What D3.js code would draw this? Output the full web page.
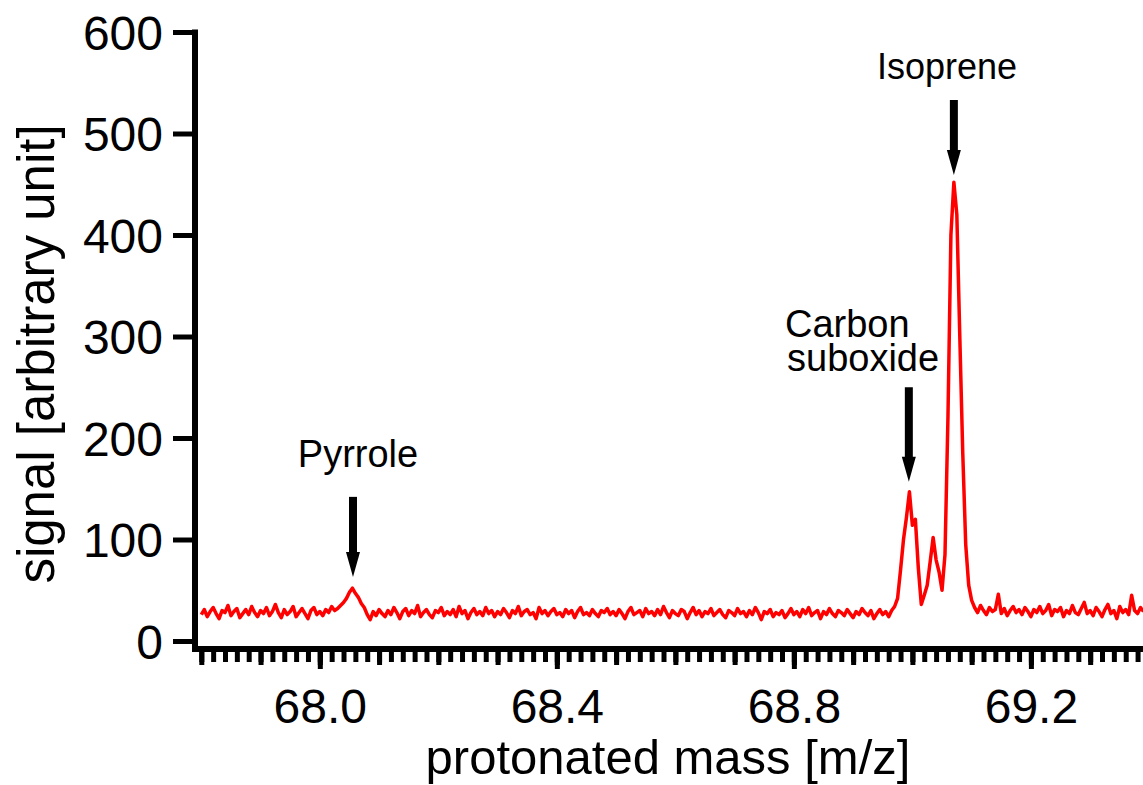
<!DOCTYPE html>
<html>
<head>
<meta charset="utf-8">
<script src="https://cdn.jsdelivr.net/npm/d3@7"></script>
<style>
  body { margin: 0; background: #fff; }
  text { font-family: "Liberation Sans", Arial, sans-serif; fill: #000; }
</style>
</head>
<body>
<div id="chart"></div>
<script>
// spectrum sampled on a regular mass grid
const massStart = 67.80
const massStep = 0.005
const signal = [
  26, 31, 24, 29, 33, 27, 22, 30, 28, 35, 25, 29, 32, 23, 27, 31, 26, 34, 28, 24,
  30, 27, 33, 25, 29, 36, 28, 23, 31, 26, 29, 34, 24, 28, 32, 27, 22, 30, 33, 26,
  29, 25, 31, 28, 34, 30, 32, 35, 38, 42, 48, 52, 47, 43, 37, 33, 26, 21, 29, 25,
  31, 27, 24, 30, 26, 33, 28, 22, 29, 32, 25, 30, 27, 35, 24, 28, 31, 26, 23, 30,
  28, 33, 25, 29, 26, 31, 24, 34, 27, 30, 22, 28, 32, 26, 29, 25, 33, 27, 30, 24,
  29, 26, 32, 28, 23, 30, 27, 34, 25, 29, 31, 26, 28, 22, 33, 27, 30, 25, 29, 32,
  26, 28, 24, 31, 27, 30, 23, 29, 33, 26, 28, 25, 31, 27, 24, 30, 28, 32, 26, 29,
  25, 31, 27, 22, 29, 33, 26, 28, 30, 24, 32, 27, 29, 25, 31, 26, 34, 28, 23, 30,
  27, 25, 31, 29, 22, 28, 33, 26, 30, 24, 29, 27, 32, 25, 28, 31, 26, 23, 30, 28,
  25, 32, 27, 29, 24, 30, 26, 33, 28, 21, 29, 27, 31, 24, 28, 26, 30, 23, 27, 32,
  26, 29, 24, 31, 27, 33, 25, 28, 30, 22, 29, 26, 32, 27, 24, 30, 28, 25, 31, 27,
  23, 29, 26, 32, 28, 25, 30, 22, 27, 31, 26, 29, 24, 30,
  34, 42, 70, 100, 122, 147, 114, 120, 72, 36, 45, 55, 78, 102, 80, 68, 50, 85,
  220, 400, 452, 420, 300, 185, 95, 55, 40, 33,
  28, 35, 30, 26, 33, 29, 31, 46, 27, 32, 25, 30, 34, 28, 31, 26, 33, 29, 24, 31,
  28, 34, 27, 30, 36, 25, 31, 29, 33, 24, 30, 27, 35, 28, 26, 32, 38, 27, 30, 25,
  33, 29, 24, 31, 36, 27, 30, 22, 34, 28, 31, 26, 45, 30, 27, 33, 29
]

const yTicks = [0, 100, 200, 300, 400, 500, 600]
const xLabelTicks = [68.0, 68.4, 68.8, 69.2]

// peak annotations
const peakNames = [["Pyrrole"], ["Carbon", "suboxide"], ["Isoprene"]]
const peakMass = [68.056, 68.994, 69.070]
const arrowTop = [142, 250, 533]
const arrowTip = [63, 157, 459]

let width = 1143
let height = 785

x = d3.scaleLinear()
	.domain([67.786, 69.39])
	.range([193, 1143.5])

y = d3.scaleLinear()
	.domain([0, 600])
	.range([641, 32])

const svg = d3.select('#chart')
	.append('svg')
	.attr('width', width)
	.attr('height', height)

// y axis
let yAxis = svg.append('g')
	.attr('transform', 'translate(195,0)')
	.call(d3.axisLeft(y).tickValues(yTicks).tickSize(22).tickPadding(10).tickSizeOuter(0))

yAxis.select('.domain').remove()
yAxis.selectAll('.tick line').attr('stroke', '#000').attr('stroke-width', 5)
yAxis.selectAll('.tick text')
	.attr('font-size', 48)
	.attr('dy', '0.36em')
	.attr('x', -32)

svg.append('line')
	.attr('x1', 195).attr('x2', 195)
	.attr('y1', 29.5).attr('y2', 652)
	.attr('stroke', '#000')
	.attr('stroke-width', 6)

// x axis: minor, medium and major ticks
const axisY = 649
let minorTicks = d3.range(0, 81).map(k => +(67.8 + k * 0.02).toFixed(2))
let mediumTicks = d3.range(0, 17).map(k => +(67.8 + k * 0.1).toFixed(1))

let gMinor = svg.append('g')
	.attr('transform', `translate(0,${axisY})`)
	.call(d3.axisBottom(x).tickValues(minorTicks).tickSize(13).tickFormat('').tickSizeOuter(0))
let gMedium = svg.append('g')
	.attr('transform', `translate(0,${axisY})`)
	.call(d3.axisBottom(x).tickValues(mediumTicks).tickSize(16).tickFormat('').tickSizeOuter(0))
let gMajor = svg.append('g')
	.attr('transform', `translate(0,${axisY})`)
	.call(d3.axisBottom(x).tickValues(xLabelTicks).tickSize(20).tickPadding(20)
		.tickFormat(d3.format('.1f')).tickSizeOuter(0))

svg.selectAll('.domain').remove()
;[gMinor, gMedium, gMajor].forEach(g => {
	g.selectAll('.tick line').attr('stroke', '#000').attr('stroke-width', 5)
})
gMajor.selectAll('.tick text')
	.attr('font-size', 48)
	.attr('dy', 0)
	.attr('y', 74)

svg.append('line')
	.attr('x1', 192).attr('x2', 1143)
	.attr('y1', axisY).attr('y2', axisY)
	.attr('stroke', '#000')
	.attr('stroke-width', 6)

// axis titles
svg.append('text')
	.attr('x', 668)
	.attr('y', 774)
	.attr('text-anchor', 'middle')
	.attr('font-size', 49)
	.text('protonated mass [m/z]')

svg.append('text')
	.attr('transform', 'translate(54,354) rotate(-90)')
	.attr('text-anchor', 'middle')
	.attr('font-size', 51)
	.text('signal [arbitrary unit]')

// spectrum trace
let line = d3.line()
	.x((d, i) => x(massStart + i * massStep))
	.y(d => y(d))

svg.append('path')
	.datum(signal)
	.attr('fill', 'none')
	.attr('stroke', '#ff0000')
	.attr('stroke-width', 3.5)
	.attr('stroke-linejoin', 'round')
	.attr('d', line)

// arrows
peakMass.forEach(function(m, i){
	let px = x(m)
	let top = y(arrowTop[i])
	let tip = y(arrowTip[i])
	let headLen = 25
	svg.append('line')
		.attr('x1', px).attr('x2', px)
		.attr('y1', top).attr('y2', tip - headLen + 2)
		.attr('stroke', '#000')
		.attr('stroke-width', 8)
	svg.append('path')
		.attr('d', `M${px - 7},${tip - headLen} L${px + 7},${tip - headLen} L${px},${tip} Z`)
		.attr('fill', '#000')
})

// labels
const labelPos = [
	{x: 358, y: 467, anchor: 'middle', size: 38},
	{x: 785, y: 337, anchor: 'start', size: 38},
	{x: 947, y: 79, anchor: 'middle', size: 36}
]
peakNames.forEach(function(lines, i){
	let t = svg.append('text')
		.attr('x', labelPos[i].x)
		.attr('y', labelPos[i].y)
		.attr('text-anchor', labelPos[i].anchor)
		.attr('font-size', labelPos[i].size)
	lines.forEach(function(s, k){
		t.append('tspan')
			.attr('x', labelPos[i].x + (k > 0 ? 2 : 0))
			.attr('dy', k > 0 ? 34 : 0)
			.text(s)
	})
})
</script>
</body>
</html>
